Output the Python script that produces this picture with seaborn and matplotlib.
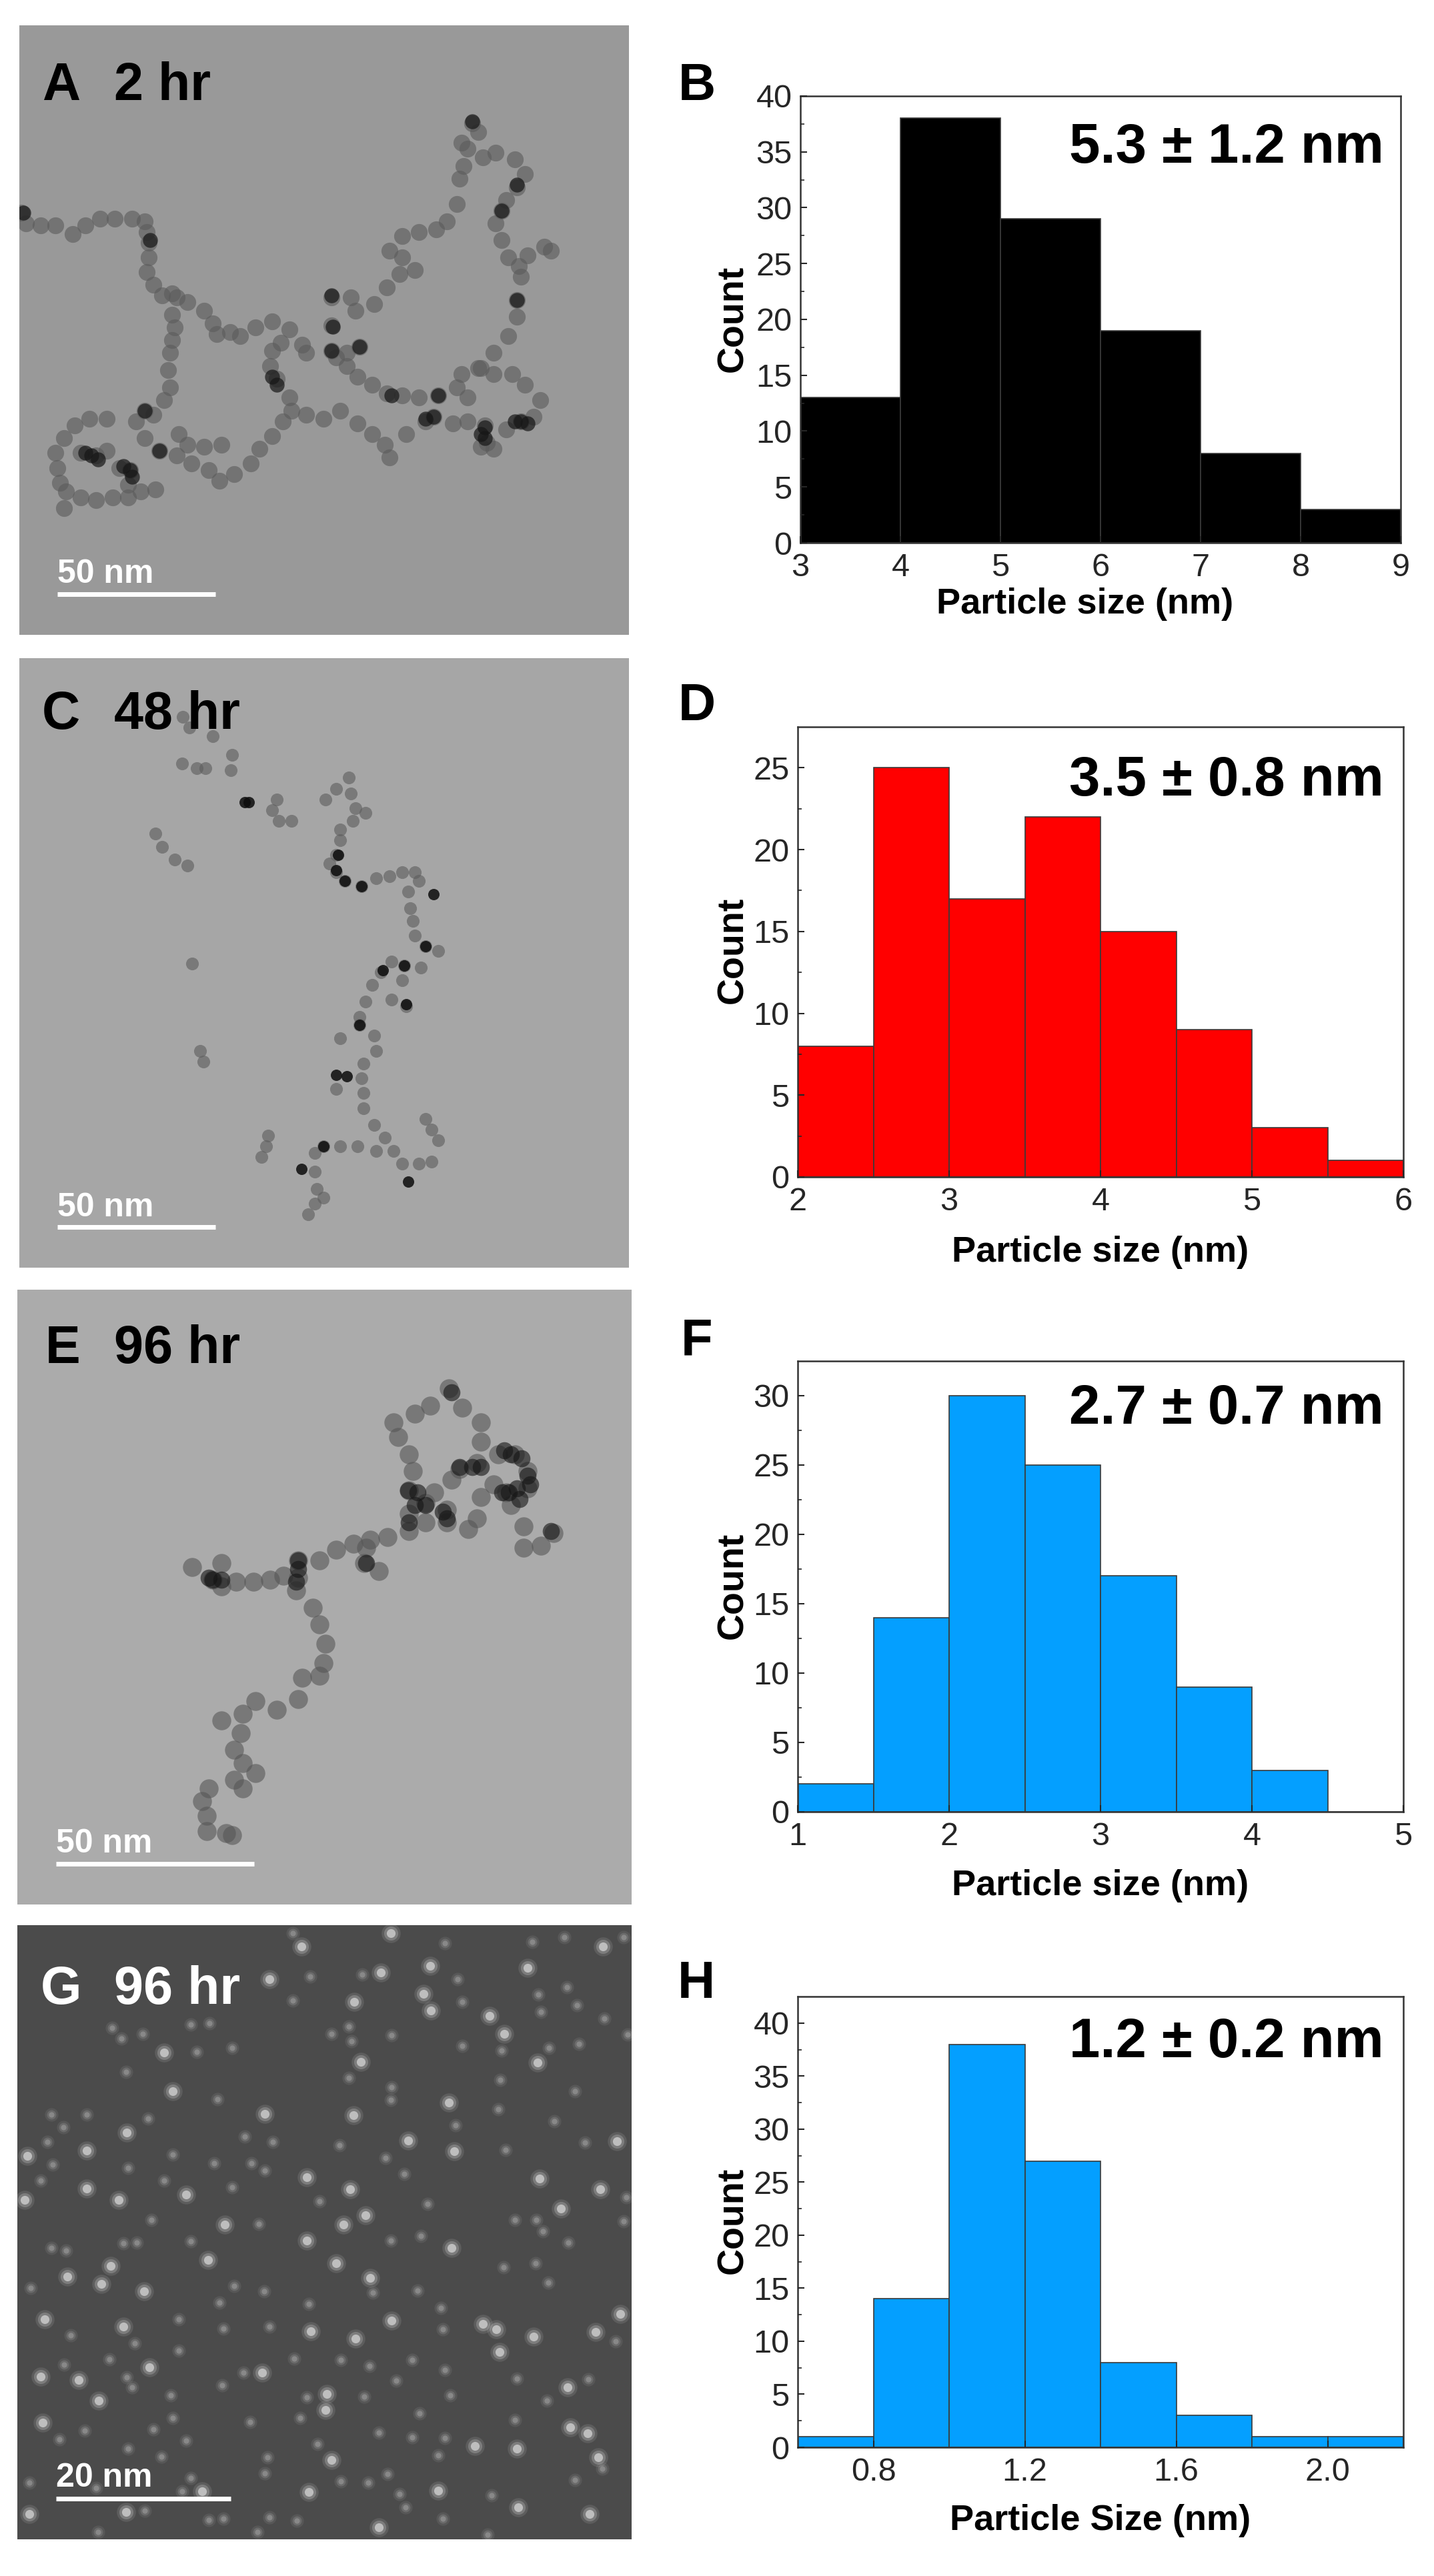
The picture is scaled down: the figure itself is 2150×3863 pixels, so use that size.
#!/usr/bin/env python3
"""Particle size histograms next to sketched TEM micrographs (panels A-H)."""

import numpy as np
import pandas as pd
import matplotlib
matplotlib.use('Agg')
import matplotlib.pyplot as plt
import seaborn as sns

# Histogram data
edges_b = [3, 4, 5, 6, 7, 8, 9]
counts_b = [13, 38, 29, 19, 8, 3]
edges_d = [2, 2.5, 3, 3.5, 4, 4.5, 5, 5.5, 6]
counts_d = [8, 25, 17, 22, 15, 9, 3, 1]
edges_f = [1, 1.5, 2, 2.5, 3, 3.5, 4, 4.5, 5]
counts_f = [2, 14, 30, 25, 17, 9, 3, 0]
edges_h = [0.6, 0.8, 1.0, 1.2, 1.4, 1.6, 1.8, 2.0, 2.2]
counts_h = [1, 14, 38, 27, 8, 3, 1, 1]

# Particles (image coordinates)
chain_a = [(50,500),(60,525),(95,530),(130,530),(170,550),(200,530),(235,515),(270,515),(310,515),(340,520),
           (345,545),(350,570),(350,605),(345,640),(360,670),(380,695),(405,690),(415,700),(440,710),(480,730),
           (500,760),(510,785),(540,780),(565,790),(600,770),(640,755),(680,775),(710,810),(720,830),
           (405,740),(410,770),(405,800),(400,830),(395,870),(400,910),(385,940),(360,975),(340,965),(320,990),
           (250,985),(210,985),(175,1000),(150,1030),(130,1065),(135,1100),(140,1135),(155,1155),(190,1170),
           (225,1175),(265,1170),(300,1170),(330,1155),(365,1150),(150,1195),(190,1065),(225,1070),(250,1060),
           (280,1100),(305,1105),(300,1140),(340,1030),(375,1060),(415,1070),(450,1090),(420,1020),(440,1045),
           (480,1050),(520,1045),(490,1105),(515,1130),(550,1115),(590,1090),(610,1055),(640,1025),(665,990),
           (685,965),(680,935),(650,890),(635,860),(640,825),(660,805),(720,975),(760,985),(800,965),(840,995),
           (875,1020),(905,1045),(915,1075),(955,1020),(1000,990),(1020,980),(1065,995),(1100,990),(1140,1000),
           (1145,1040),(1130,1050),(1160,1055),(1190,1010),(1225,990),(1255,980),(1270,940),(1235,905),(1205,880),
           (1160,880),(1125,865),(1085,880),(1075,910),(1100,935),(1030,930),(985,935),(945,930),(910,925),
           (875,905),(840,885),(815,860),(790,840),(780,825),(845,815),(815,830),(780,765),(780,700),(825,700),
           (835,730),(880,715),(910,675),(940,645),(975,635),(945,605),(915,590),(945,555),(985,545),(1025,540),
           (1050,520),(1075,480),(1080,420),(1090,390),(1085,335),(1110,290),(1125,310),(1100,350),(1135,370),
           (1165,360),(1210,375),(1235,410),(1215,440),(1190,470),(1180,495),(1165,525),(1180,565),(1195,605),
           (1220,625),(1225,650),(1215,705),(1215,745),(1195,790),(1160,830),(1130,865),(1240,600),(1280,580),
           (1295,590)]
dark_a = [(352,565),(780,695),(782,768),(340,965),(640,885),(650,905),(215,1070),(1225,990),(1140,1005),
          (1020,980),(1215,435),(1215,705),(1110,285),(305,1105),(920,930),(1030,930),(55,500),(375,1060),
          (200,1065),(230,1080),(290,1095),(310,1120),(1130,1020),(1140,1030),(1210,990),(1240,995),(845,815),
          (780,825),(1000,985),(1180,495)]

chain_c = [(430,180),(445,205),(500,225),(428,290),(462,300),(482,300),(545,270),(542,305),(650,375),(640,400),
           (655,425),(685,425),(365,455),(380,485),(410,515),(440,530),(452,760),(470,965),(478,990),(630,1165),
           (625,1190),(615,1215),(820,322),(790,350),(765,375),(825,360),(835,395),(860,405),(830,425),(800,445),
           (800,470),(790,505),(775,525),(790,545),(810,565),(850,578),(885,560),(915,555),(945,545),(975,545),
           (985,565),(960,590),(965,630),(970,660),(975,695),(1000,720),(1030,730),(990,770),(950,765),(920,755),
           (895,780),(875,810),(860,850),(845,885),(845,905),(880,930),(885,965),(855,995),(850,1030),(855,1065),
           (855,1100),(800,935),(790,1055),(880,1140),(905,1170),(925,1200),(945,1230),(985,1230),(1015,1225),
           (1030,1175),(1015,1150),(1000,1125),(885,1200),(840,1190),(800,1190),(760,1190),(740,1205),(740,1250),
           (745,1290),(760,1310),(740,1325),(725,1350),(920,845),(945,800),(955,860)]
dark_c = [(585,380),(575,380),(795,505),(790,540),(850,578),(1020,597),(1000,720),(900,775),(845,905),(790,1022),
          (815,1025),(760,1190),(708,1243),(960,1272),(955,855),(950,765),(810,565)]

chain_e = [(450,705),(520,695),(500,735),(520,750),(555,740),(595,740),(635,735),(665,725),(700,690),(700,730),
           (695,760),(735,800),(750,840),(765,885),(760,930),(750,960),(710,965),(700,1015),(650,1040),(600,1020),
           (570,1050),(520,1065),(565,1095),(550,1135),(570,1165),(600,1190),(550,1205),(570,1225),(490,1225),
           (475,1255),(485,1290),(485,1325),(530,1330),(545,1335),(750,690),(790,665),(830,650),(870,640),(910,635),
           (855,695),(890,715),(860,660),(960,620),(1000,600),(1050,600),(1100,615),(1120,590),(1130,540),(1160,510),
           (1190,530),(960,580),(960,525),(970,480),(960,440),(935,400),(925,365),(975,345),(1010,325),(1055,285),
           (1085,330),(1130,365),(1130,410),(1120,460),(1080,475),(1060,500),(1020,530),(1000,555),(1050,570),
           (1170,440),(1210,440),(1240,480),(1240,520),(1200,560),(1230,610),(1230,660),(1270,655),(1300,625)]
dark_e = [(1060,295),(958,525),(975,560),(1000,560),(1050,590),(500,735),(700,690),(1110,470),(1200,440),(1215,520),
          (1195,530),(1240,490),(860,695),(1295,620),(960,600),(1185,430),(1225,450),(1245,510),(1180,530),(1220,545),
          (980,530),(1080,470),(1130,470),(1040,575),(490,730),(520,735),(700,710),(695,740)]

bright_g = [(895,232),(1010,218),(832,298),(1012,316),(995,280),(1417,175),(1240,222),(633,248),(385,410),(848,430),
            (405,495),(622,545),(830,548),(297,586),(203,627),(64,638),(58,735),(203,710),(720,685),(822,712),
            (1067,628),(958,604),(1267,688),(1410,712),(1263,432),(1150,328),(1185,368),(1055,520),(720,825),(806,790),
            (858,770),(790,875),(488,868),(338,938),(260,882),(157,905),(237,922),(104,1000),(290,1015),(730,1026),
            (920,1003),(1253,1038),(1400,1027),(1135,1010),(1165,1022),(1173,1072),(835,1042),(95,1126),(185,1134),
            (232,1180),(350,1105),(1333,1150),(100,1228),(778,1310),(725,1382),(1030,1378),(1115,1280),(1217,1415),
            (1385,1430),(475,1380),(295,1425),(68,1430),(890,1460),(1450,605),(1318,755),(1060,842),(870,908),(278,735),
            (437,724),(527,790),(1457,988),(615,1117),(765,1200),(768,1165),(1340,1238),(1380,1252),(1215,1285),
            (1405,1305),(918,145),(708,175)]
dim_g = [(688,145),(1045,168),(1250,165),(1465,155),(1325,155),(850,237),(728,242),(1075,248),(688,295),(1265,282),
         (1332,265),(1355,305),(1085,298),(1270,320),(1420,335),(262,355),(285,378),(335,368),(447,347),(492,345),
         (825,385),(820,352),(920,372),(1475,370),(778,368),(462,408),(545,400),(1178,405),(1085,395),(1290,400),
         (1360,390),(295,452),(820,465),(920,487),(1175,470),(1350,495),(510,513),(918,515),(1170,535),(120,547),
         (203,547),(148,575),(348,555),(1070,570),(1302,562),(575,595),(640,607),(797,615),(1375,608),(1188,625),
         (405,635),(905,642),(110,607),(502,655),(590,655),(622,670),(123,658),(95,692),(300,665),(385,692),(950,678),
         (545,708),(750,738),(1005,745),(1472,730),(355,780),(608,788),(1260,780),(1275,805),(1465,782),(1210,780),
         (120,842),(155,848),(290,832),(320,830),(447,827),(918,825),(988,815),(1335,830),(1183,885),(1258,875),
         (1288,918),(72,930),(550,925),(875,940),(980,936),(620,937),(725,965),(515,962),(1035,975),(420,1000),
         (525,1020),(633,1015),(165,1035),(1040,1022),(316,1052),(1447,1048),(420,1068),(257,1088),(690,1087),(150,1100),
         (800,1090),(868,1103),(968,1090),(572,1118),(1045,1112),(297,1128),(930,1135),(1215,1130),(1382,1132),(522,1145),
         (310,1150),(400,1168),(855,1170),(1057,1167),(720,1172),(1285,1180),(405,1218),(705,1218),(985,1208),(587,1226),
         (1210,1222),(198,1245),(360,1242),(138,1265),(890,1250),(968,1260),(1045,1262),(437,1268),(745,1275),(300,1285),
         (378,1303),(628,1305),(1030,1300),(622,1340),(910,1342),(1415,1330),(1350,1355),(68,1360),(865,1360),(225,1372),
         (447,1350),(428,1380),(1155,1388),(938,1385),(952,1415),(800,1357),(340,1423),(490,1443),(525,1440),(632,1438),
         (697,1445),(1040,1440),(605,1470),(230,1470),(1145,1475)]

W, H = 2150, 3863
sns.set_theme(style='ticks')
plt.rcParams['font.family'] = ['Liberation Sans', 'DejaVu Sans']
fig = plt.figure(figsize=(W / 100, H / 100), dpi=100, facecolor='white')


def add_axes_px(left, top, right, bottom):
    """Axes from pixel box of the final image"""
    return fig.add_axes([left / W, 1 - bottom / H, (right - left) / W, (bottom - top) / H])


def fig_text(x, y, s, **kw):
    fig.text(x / W, 1 - y / H, s, va='baseline', **kw)


def scatter(ax, pts, size, color, alpha):
    xy = np.array(pts)
    sns.scatterplot(x=xy[:, 0], y=xy[:, 1], s=size, color=color, alpha=alpha,
                    linewidth=0, legend=False, ax=ax)


def micrograph(box, lims, bg, letter, hours, bar, bar_label, txt_color):
    ax = add_axes_px(*box)
    ax.set_facecolor(bg)
    ax.set(xlim=lims[:2], ylim=lims[2:], xticks=[], yticks=[])
    sns.despine(ax=ax, left=True, bottom=True)
    ax.info = (letter, hours, bar, bar_label, txt_color)
    return ax


def decorate(ax):
    letter, hours, bar, bar_label, txt_color = ax.info
    lx, ly = letter
    ax.text(lx[0], ly, lx[1], color=txt_color, fontsize=57, fontweight='bold')
    ax.text(268, ly, hours, color=txt_color, fontsize=57, fontweight='bold')
    x0, x1, y, ty = bar
    ax.plot([x0, x1], [y, y], color='white', lw=5, solid_capstyle='butt')
    ax.text(x0, ty, bar_label, color='white', fontsize=36, fontweight='bold')


def histogram(box, edges, counts, color, ymax, yticks, xticks, xticklabels, minor_y,
              letter_xy, note, note_y, xlabel, xlabel_xy, count_xy):
    ax = add_axes_px(*box)
    df = pd.DataFrame({'left': edges[:-1], 'count': counts})
    sns.histplot(data=df, x='left', weights='count', bins=edges, color=color, alpha=1,
                 edgecolor='#3a3a3a', linewidth=1.2, ax=ax)
    ax.set(xlim=(edges[0], edges[-1]), ylim=(0, ymax), xlabel='', ylabel='')
    ax.set_xticks(xticks)
    ax.set_xticklabels(xticklabels)
    ax.set_yticks(yticks)
    ax.set_yticks(minor_y, minor=True)
    ax.tick_params(axis='y', which='major', direction='in', length=7, width=1.5, labelsize=35, pad=9)
    ax.tick_params(axis='y', which='minor', direction='in', length=4, width=1.2)
    ax.tick_params(axis='x', which='major', direction='in', length=7, width=1.5, labelsize=35, pad=11)
    for spine in ax.spines.values():
        spine.set_visible(True)
        spine.set_linewidth(1.8)
        spine.set_color('#333333')
    ax.set_axisbelow(False)
    fig_text(letter_xy[0], letter_xy[1], letter_xy[2], fontsize=56, fontweight='bold', color='black')
    fig_text(2075, note_y, note, fontsize=60, fontweight='bold', color='black', ha='right')
    fig_text(xlabel_xy[0], xlabel_xy[1], xlabel, fontsize=39, fontweight='bold', color='black', ha='center')
    fig.text(count_xy[0] / W, 1 - count_xy[1] / H, 'Count', rotation=90, fontsize=40, fontweight='bold',
             color='black', ha='center', va='center')
    return ax


# Left column: micrographs
ax_a = micrograph((29, 38, 943, 952), (45, 1479, 1492, 60), '#999999', ((98, 'A'), 235), '2 hr',
                  (135, 507, 1396, 1370), '50 nm', 'black')
scatter(ax_a, chain_a, 330, '#5a5a5a', 0.6)
scatter(ax_a, dark_a, 260, '#161616', 0.7)
decorate(ax_a)

ax_c = micrograph((29, 987, 943, 1901), (45, 1479, 1475, 42), '#a6a6a6', ((98, 'C'), 208), '48 hr',
                  (135, 507, 1380, 1354), '50 nm', 'black')
scatter(ax_c, chain_c, 190, '#5c5c5c', 0.6)
scatter(ax_c, dark_c, 150, '#0c0c0c', 0.85)
decorate(ax_c)

ax_e = micrograph((26, 1934, 947, 2856), (40, 1484, 1498, 53), '#ababab', ((105, 'E'), 225), '96 hr',
                  (131, 597, 1403, 1375), '50 nm', 'black')
scatter(ax_e, chain_e, 420, '#565656', 0.6)
scatter(ax_e, dark_e, 340, '#141414', 0.6)
decorate(ax_e)

ax_g = micrograph((26, 2887, 947, 3808), (40, 1484, 1486, 128), '#4b4b4b', ((95, 'G'), 302), '96 hr',
                  (131, 542, 1396, 1370), '20 nm', 'white')
scatter(ax_g, dim_g, 210, '#ffffff', 0.07)
scatter(ax_g, dim_g, 100, '#ffffff', 0.12)
scatter(ax_g, dim_g, 35, '#ffffff', 0.2)
scatter(ax_g, bright_g, 420, '#ffffff', 0.1)
scatter(ax_g, bright_g, 230, '#ffffff', 0.2)
scatter(ax_g, bright_g, 90, '#ffffff', 0.5)
decorate(ax_g)

# Right column: histograms
histogram((1200, 144, 2100, 814), edges_b, counts_b, '#000000', 40, range(0, 41, 5),
          edges_b, ['3', '4', '5', '6', '7', '8', '9'], np.arange(2.5, 40, 5),
          (1017, 150, 'B'), '5.3 ± 1.2 nm', 244, 'Particle size (nm)', (1627, 920), (1099, 478))
histogram((1196, 1090, 2104, 1765), edges_d, counts_d, '#ff0000', 27.5, range(0, 26, 5),
          [2, 3, 4, 5, 6], ['2', '3', '4', '5', '6'], np.arange(2.5, 27.5, 5),
          (1017, 1080, 'D'), '3.5 ± 0.8 nm', 1193, 'Particle size (nm)', (1650, 1892), (1099, 1425))
histogram((1196, 2041, 2104, 2717), edges_f, counts_f, '#049fff', 32.5, range(0, 31, 5),
          [1, 2, 3, 4, 5], ['1', '2', '3', '4', '5'], np.arange(2.5, 32.5, 5),
          (1021, 2033, 'F'), '2.7 ± 0.7 nm', 2135, 'Particle size (nm)', (1650, 2842), (1099, 2378))
histogram((1196, 2994, 2104, 3670), edges_h, counts_h, '#049fff', 42.5, range(0, 41, 5),
          [0.8, 1.2, 1.6, 2.0], ['0.8', '1.2', '1.6', '2.0'], np.arange(2.5, 42.5, 5),
          (1016, 2996, 'H'), '1.2 ± 0.2 nm', 3085, 'Particle Size (nm)', (1650, 3794), (1099, 3330))

fig.savefig('out.png', dpi=100, facecolor='white')
